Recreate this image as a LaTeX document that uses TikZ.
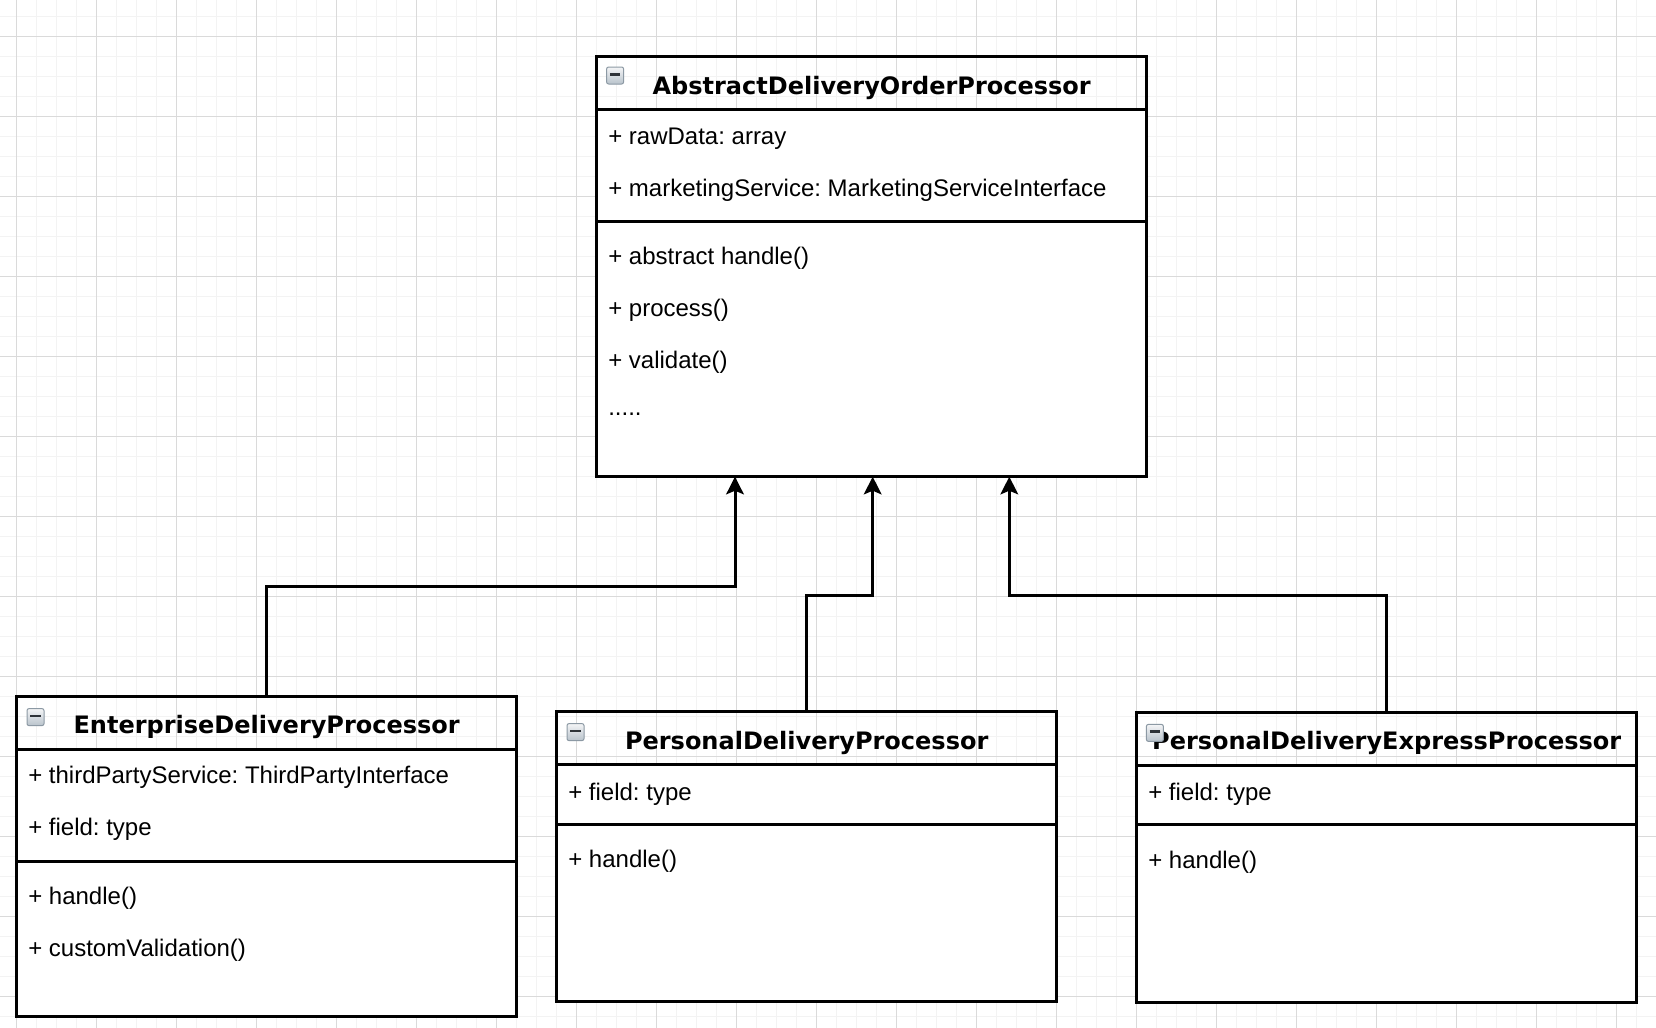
\documentclass[tikz,border=0pt]{standalone}
\usepackage{fontspec}
\setmainfont{Liberation Sans}
\newfontfamily\titlefont{DejaVu Sans}
\usetikzlibrary{arrows.meta}

\definecolor{gridminor}{HTML}{F3F3F3}
\definecolor{gridmajor}{HTML}{DADADA}
\definecolor{iconedge}{HTML}{8C99A4}
\definecolor{icontop}{HTML}{F4F5F6}
\definecolor{iconbottom}{HTML}{B9C3CC}
\definecolor{icondash}{HTML}{2E3338}

\begin{document}
\frenchspacing
\begin{tikzpicture}[x=0.5pt,y=-0.5pt,
  minorline/.style={draw=gridminor,line width=0.75pt},
  majorline/.style={draw=gridmajor,line width=0.5pt},
  classbox/.style={draw=black,line width=1.5pt,inner sep=0pt,outer sep=0pt,anchor=north west,
    path picture={\fill[white] ([yshift=-#1]path picture bounding box.north west)
      rectangle (path picture bounding box.south east);}},
  divider/.style={line width=1.5pt},
  classname/.style={font=\titlefont\bfseries\fontsize{12}{14}\selectfont,anchor=base,inner sep=0pt},
  member/.style={font=\fontsize{12}{14}\selectfont,anchor=base west,inner sep=0pt},
  foldicon/.style={draw=iconedge,line width=0.5pt,rounded corners=1pt,
    top color=icontop,bottom color=iconbottom,minimum size=8.5pt,inner sep=0pt,
    anchor=north west,
    path picture={\draw[line width=1.3pt,icondash]
      ([xshift=1.6pt,yshift=0.6pt]path picture bounding box.west) --
      ([xshift=-1.6pt,yshift=0.6pt]path picture bounding box.east);}},
  inherit/.style={line width=1.5pt,-{Stealth[length=8.8pt,width=8.8pt,inset=1.8pt]}}
]
\useasboundingbox (0,0) rectangle (1656,1028);
\fill[white] (0,0) rectangle (1656,1028);

% background grid: fine lines every 20px, heavier every 80px
\foreach \k in {-1,...,82} \draw[minorline] ({16.7+20*\k},0) -- ({16.7+20*\k},1028);
\foreach \k in {-1,...,51} \draw[minorline] (0,{16.7+20*\k}) -- (1656,{16.7+20*\k});
\foreach \k in {0,...,20} \draw[majorline] ({16.7+80*\k},0) -- ({16.7+80*\k},1028);
\foreach \k in {0,...,13} \draw[majorline] (0,{-43.3+80*\k}) -- (1656,{-43.3+80*\k});

% ---- abstract base class ----
\node[classbox=26.15pt,minimum width=275pt,minimum height=210pt] (main) at (596.7,56.7) {};
\draw[divider] ([yshift=-26.15pt]main.north west) -- ([yshift=-26.15pt]main.north east);
\draw[divider] ([yshift=-82.5pt]main.north west) -- ([yshift=-82.5pt]main.north east);
\node[classname] (mainname) at ([yshift=-18.7pt]main.north) {AbstractDeliveryOrderProcessor};
\node[foldicon] (mainicon) at ([xshift=4.7pt,yshift=-4.9pt]main.north west) {};
\node[member] (mainraw) at ([xshift=5.6pt,yshift=-43.7pt]main.north west) {+ rawData: array};
\node[member] (mainmkt) at ([xshift=5.6pt,yshift=-69.7pt]main.north west) {+ marketingService: MarketingServiceInterface};
\node[member] (mainhandle) at ([xshift=5.6pt,yshift=-103.7pt]main.north west) {+ abstract handle()};
\node[member] (mainprocess) at ([xshift=5.6pt,yshift=-129.7pt]main.north west) {+ process()};
\node[member] (mainvalidate) at ([xshift=5.6pt,yshift=-155.7pt]main.north west) {+ validate()};
\node[member] (maindots) at ([xshift=5.6pt,yshift=-179.3pt]main.north west) {.....};

% ---- enterprise subclass ----
\node[classbox=26.15pt,minimum width=250pt,minimum height=160pt] (ent) at (16.7,696.7) {};
\draw[divider] ([yshift=-26.15pt]ent.north west) -- ([yshift=-26.15pt]ent.north east);
\draw[divider] ([yshift=-82.5pt]ent.north west) -- ([yshift=-82.5pt]ent.north east);
\node[classname] (entname) at ([yshift=-18.25pt]ent.north) {EnterpriseDeliveryProcessor};
\node[foldicon] (enticon) at ([xshift=4.9pt,yshift=-5.7pt]ent.north west) {};
\node[member] (entthird) at ([xshift=5.6pt,yshift=-43.5pt]ent.north west) {+ thirdPartyService: ThirdPartyInterface};
\node[member] (entfield) at ([xshift=5.6pt,yshift=-69.5pt]ent.north west) {+ field: type};
\node[member] (enthandle) at ([xshift=5.6pt,yshift=-103.7pt]ent.north west) {+ handle()};
\node[member] (entcustom) at ([xshift=5.6pt,yshift=-129.7pt]ent.north west) {+ customValidation()};

% ---- personal subclass ----
\node[classbox=26.15pt,minimum width=250pt,minimum height=145pt] (pers) at (556.7,711.7) {};
\draw[divider] ([yshift=-26.15pt]pers.north west) -- ([yshift=-26.15pt]pers.north east);
\draw[divider] ([yshift=-56.15pt]pers.north west) -- ([yshift=-56.15pt]pers.north east);
\node[classname] (persname) at ([yshift=-18.65pt]pers.north) {PersonalDeliveryProcessor};
\node[foldicon] (persicon) at ([xshift=4.9pt,yshift=-5.7pt]pers.north west) {};
\node[member] (persfield) at ([xshift=5.6pt,yshift=-44.3pt]pers.north west) {+ field: type};
\node[member] (pershandle) at ([xshift=5.6pt,yshift=-77.7pt]pers.north west) {+ handle()};

% ---- personal express subclass ----
\node[classbox=26.15pt,minimum width=250pt,minimum height=145pt] (expr) at (1136.7,712.7) {};
\draw[divider] ([yshift=-26.15pt]expr.north west) -- ([yshift=-26.15pt]expr.north east);
\draw[divider] ([yshift=-55.8pt]expr.north west) -- ([yshift=-55.8pt]expr.north east);
\node[classname] (exprname) at ([yshift=-18.15pt]expr.north) {PersonalDeliveryExpressProcessor};
\node[foldicon] (expricon) at ([xshift=4.6pt,yshift=-5.6pt]expr.north west) {};
\node[member] (exprfield) at ([xshift=5.6pt,yshift=-43.8pt]expr.north west) {+ field: type};
\node[member] (exprhandle) at ([xshift=5.6pt,yshift=-77.7pt]expr.north west) {+ handle()};

% ---- generalization connectors ----
\coordinate (bendent) at (735,586.7);
\coordinate (bendpers) at (872.7,595);
\coordinate (bendexpr) at (1009.3,595);
\draw[inherit] (ent.north) |- (bendent) -- (bendent |- main.south);
\draw[inherit] (pers.north) |- (bendpers) -- (bendpers |- main.south);
\draw[inherit] (expr.north) |- (bendexpr) -- (bendexpr |- main.south);
\end{tikzpicture}
\end{document}
